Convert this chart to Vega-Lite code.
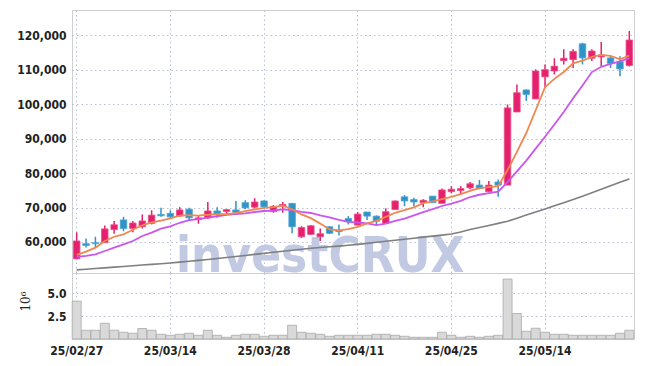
{
  "$schema": "https://vega.github.io/schema/vega-lite/v6.json",
  "padding": {"left": 0, "top": 9, "right": 12, "bottom": 5},
  "background": "white",
  "spacing": 0,
  "bounds": "flush",
  "config": {
    "concat": {"spacing": 0},
    "view": {"stroke": "#cfcfcf"},
    "axis": {
      "labelFont": "DejaVu Sans Condensed, Liberation Sans Narrow, DejaVu Sans, sans-serif",
      "labelFontWeight": "bold",
      "labelFontSize": 12,
      "labelColor": "#222222",
      "gridColor": "#b9bed6",
      "gridDash": [1.5, 3],
      "gridWidth": 1,
      "domain": false,
      "ticks": false,
      "labelOverlap": false
    }
  },
  "datasets": {
    "d": [
      {"date": "25/02/27", "open": 55100, "high": 62800, "low": 55000, "close": 60300, "volume_m": 4.16, "ma5": 56230, "ma10": 55650, "ma60": 51900},
      {"date": "25/02/28", "open": 59500, "high": 61000, "low": 58400, "close": 59000, "volume_m": 0.96, "ma5": 57190, "ma10": 55940, "ma60": 52100},
      {"date": "25/03/04", "open": 59800, "high": 61500, "low": 58400, "close": 59500, "volume_m": 0.96, "ma5": 58350, "ma10": 56430, "ma60": 52300},
      {"date": "25/03/05", "open": 59800, "high": 64800, "low": 59800, "close": 63800, "volume_m": 1.73, "ma5": 60290, "ma10": 57390, "ma60": 52500},
      {"date": "25/03/06", "open": 63600, "high": 66100, "low": 62400, "close": 65000, "volume_m": 0.96, "ma5": 61520, "ma10": 58350, "ma60": 52700},
      {"date": "25/03/07", "open": 66400, "high": 67300, "low": 63100, "close": 63900, "volume_m": 0.74, "ma5": 62230, "ma10": 59330, "ma60": 52900},
      {"date": "25/03/10", "open": 63900, "high": 66100, "low": 62800, "close": 65500, "volume_m": 0.63, "ma5": 63530, "ma10": 60290, "ma60": 53100},
      {"date": "25/03/11", "open": 64400, "high": 68000, "low": 63900, "close": 66100, "volume_m": 1.15, "ma5": 64840, "ma10": 61740, "ma60": 53300},
      {"date": "25/03/12", "open": 65400, "high": 69200, "low": 65100, "close": 67800, "volume_m": 0.96, "ma5": 65660, "ma10": 62700, "ma60": 53500},
      {"date": "25/03/13", "open": 68000, "high": 69900, "low": 67300, "close": 67600, "volume_m": 0.52, "ma5": 66180, "ma10": 63850, "ma60": 53700},
      {"date": "25/03/14", "open": 68300, "high": 69200, "low": 66700, "close": 67300, "volume_m": 0.41, "ma5": 66860, "ma10": 64550, "ma60": 53900},
      {"date": "25/03/17", "open": 67600, "high": 70100, "low": 67300, "close": 69300, "volume_m": 0.52, "ma5": 67610, "ma10": 65570, "ma60": 54150},
      {"date": "25/03/18", "open": 69500, "high": 69900, "low": 66300, "close": 67000, "volume_m": 0.63, "ma5": 67800, "ma10": 66320, "ma60": 54400},
      {"date": "25/03/19", "open": 66500, "high": 67700, "low": 65300, "close": 67000, "volume_m": 0.41, "ma5": 67630, "ma10": 66640, "ma60": 54650},
      {"date": "25/03/20", "open": 67000, "high": 71600, "low": 66700, "close": 69000, "volume_m": 0.96, "ma5": 67900, "ma10": 67040, "ma60": 54900},
      {"date": "25/03/21", "open": 69000, "high": 70100, "low": 67000, "close": 68000, "volume_m": 0.41, "ma5": 68060, "ma10": 67460, "ma60": 55200},
      {"date": "25/03/24", "open": 68800, "high": 69500, "low": 67900, "close": 69400, "volume_m": 0.19, "ma5": 68080, "ma10": 67850, "ma60": 55500},
      {"date": "25/03/25", "open": 69300, "high": 71900, "low": 68000, "close": 68600, "volume_m": 0.41, "ma5": 68390, "ma10": 68100, "ma60": 55800},
      {"date": "25/03/26", "open": 71400, "high": 72100, "low": 69500, "close": 69900, "volume_m": 0.52, "ma5": 68970, "ma10": 68300, "ma60": 56100},
      {"date": "25/03/27", "open": 70100, "high": 72700, "low": 69700, "close": 71600, "volume_m": 0.52, "ma5": 69490, "ma10": 68700, "ma60": 56400},
      {"date": "25/03/28", "open": 71900, "high": 72100, "low": 69900, "close": 70200, "volume_m": 0.30, "ma5": 69910, "ma10": 68990, "ma60": 56700},
      {"date": "25/03/31", "open": 68800, "high": 70700, "low": 68500, "close": 70300, "volume_m": 0.41, "ma5": 70100, "ma10": 69090, "ma60": 57000},
      {"date": "25/04/01", "open": 70400, "high": 71600, "low": 68500, "close": 70900, "volume_m": 0.41, "ma5": 70560, "ma10": 69480, "ma60": 57300},
      {"date": "25/04/02", "open": 71200, "high": 71300, "low": 62500, "close": 64400, "volume_m": 1.51, "ma5": 69480, "ma10": 69230, "ma60": 57600},
      {"date": "25/04/03", "open": 61500, "high": 64600, "low": 61200, "close": 64200, "volume_m": 0.74, "ma5": 67990, "ma10": 68740, "ma60": 57900},
      {"date": "25/04/04", "open": 62200, "high": 64900, "low": 62000, "close": 64700, "volume_m": 0.63, "ma5": 66910, "ma10": 68410, "ma60": 58200},
      {"date": "25/04/07", "open": 61500, "high": 63900, "low": 60300, "close": 62400, "volume_m": 0.52, "ma5": 65330, "ma10": 67720, "ma60": 58400},
      {"date": "25/04/08", "open": 64400, "high": 64600, "low": 62300, "close": 62500, "volume_m": 0.30, "ma5": 63650, "ma10": 67110, "ma60": 58600},
      {"date": "25/04/09", "open": 63400, "high": 65100, "low": 61900, "close": 63000, "volume_m": 0.41, "ma5": 63360, "ma10": 66420, "ma60": 58800},
      {"date": "25/04/10", "open": 66800, "high": 67500, "low": 65100, "close": 65900, "volume_m": 0.41, "ma5": 63710, "ma10": 65850, "ma60": 59050},
      {"date": "25/04/11", "open": 64900, "high": 68700, "low": 64900, "close": 68100, "volume_m": 0.41, "ma5": 64380, "ma10": 65650, "ma60": 59300},
      {"date": "25/04/14", "open": 68700, "high": 68700, "low": 66400, "close": 67500, "volume_m": 0.41, "ma5": 65410, "ma10": 65370, "ma60": 59600},
      {"date": "25/04/15", "open": 67500, "high": 67700, "low": 64800, "close": 66000, "volume_m": 0.52, "ma5": 66110, "ma10": 64880, "ma60": 59900},
      {"date": "25/04/16", "open": 65400, "high": 69800, "low": 65400, "close": 68800, "volume_m": 0.52, "ma5": 67260, "ma10": 65310, "ma60": 60200},
      {"date": "25/04/17", "open": 69400, "high": 72000, "low": 69300, "close": 71900, "volume_m": 0.41, "ma5": 68470, "ma10": 66090, "ma60": 60500},
      {"date": "25/04/18", "open": 73100, "high": 73600, "low": 70400, "close": 71900, "volume_m": 0.30, "ma5": 69220, "ma10": 66800, "ma60": 60800},
      {"date": "25/04/21", "open": 72300, "high": 72800, "low": 70400, "close": 71600, "volume_m": 0.19, "ma5": 70030, "ma10": 67720, "ma60": 61100},
      {"date": "25/04/22", "open": 71400, "high": 72400, "low": 70100, "close": 72100, "volume_m": 0.19, "ma5": 71250, "ma10": 68680, "ma60": 61400},
      {"date": "25/04/23", "open": 73300, "high": 73300, "low": 71300, "close": 71400, "volume_m": 0.19, "ma5": 71770, "ma10": 69520, "ma60": 61700},
      {"date": "25/04/24", "open": 71200, "high": 75500, "low": 71200, "close": 75100, "volume_m": 0.74, "ma5": 72410, "ma10": 70440, "ma60": 62000},
      {"date": "25/04/25", "open": 74600, "high": 76200, "low": 74100, "close": 75300, "volume_m": 0.41, "ma5": 73090, "ma10": 71150, "ma60": 62300},
      {"date": "25/04/28", "open": 74900, "high": 76200, "low": 73800, "close": 75500, "volume_m": 0.19, "ma5": 73860, "ma10": 71950, "ma60": 62900},
      {"date": "25/04/29", "open": 75700, "high": 77400, "low": 75300, "close": 76900, "volume_m": 0.30, "ma5": 74820, "ma10": 73040, "ma60": 63600},
      {"date": "25/04/30", "open": 76500, "high": 78000, "low": 75300, "close": 75500, "volume_m": 0.19, "ma5": 75630, "ma10": 73700, "ma60": 64200},
      {"date": "25/05/02", "open": 74600, "high": 77700, "low": 74600, "close": 76500, "volume_m": 0.30, "ma5": 75920, "ma10": 74170, "ma60": 64800},
      {"date": "25/05/07", "open": 77400, "high": 78100, "low": 73100, "close": 76500, "volume_m": 0.41, "ma5": 76170, "ma10": 74630, "ma60": 65400},
      {"date": "25/05/08", "open": 76500, "high": 99900, "low": 76500, "close": 98900, "volume_m": 6.58, "ma5": 80860, "ma10": 77360, "ma60": 66000},
      {"date": "25/05/09", "open": 97700, "high": 105700, "low": 97700, "close": 103300, "volume_m": 2.80, "ma5": 86140, "ma10": 80480, "ma60": 66900},
      {"date": "25/05/12", "open": 104100, "high": 104300, "low": 100900, "close": 102800, "volume_m": 0.85, "ma5": 91610, "ma10": 83620, "ma60": 67800},
      {"date": "25/05/13", "open": 101500, "high": 110100, "low": 101500, "close": 109600, "volume_m": 1.18, "ma5": 98220, "ma10": 87070, "ma60": 68700},
      {"date": "25/05/14", "open": 107900, "high": 111500, "low": 104700, "close": 110000, "volume_m": 0.74, "ma5": 104910, "ma10": 90540, "ma60": 69600},
      {"date": "25/05/15", "open": 109600, "high": 113300, "low": 108600, "close": 111000, "volume_m": 0.52, "ma5": 107330, "ma10": 94100, "ma60": 70500},
      {"date": "25/05/16", "open": 112600, "high": 115900, "low": 111500, "close": 113300, "volume_m": 0.52, "ma5": 109320, "ma10": 97730, "ma60": 71400},
      {"date": "25/05/19", "open": 112900, "high": 115900, "low": 110500, "close": 115300, "volume_m": 0.41, "ma5": 111810, "ma10": 101710, "ma60": 72300},
      {"date": "25/05/20", "open": 117500, "high": 117800, "low": 111500, "close": 113400, "volume_m": 0.41, "ma5": 112580, "ma10": 105400, "ma60": 73300},
      {"date": "25/05/21", "open": 113300, "high": 115900, "low": 112500, "close": 115400, "volume_m": 0.41, "ma5": 113670, "ma10": 109290, "ma60": 74300},
      {"date": "25/05/22", "open": 113700, "high": 118000, "low": 111000, "close": 114200, "volume_m": 0.41, "ma5": 114300, "ma10": 110820, "ma60": 75300},
      {"date": "25/05/23", "open": 113400, "high": 113900, "low": 110500, "close": 111800, "volume_m": 0.41, "ma5": 114020, "ma10": 111670, "ma60": 76300},
      {"date": "25/05/26", "open": 112300, "high": 113900, "low": 108100, "close": 110200, "volume_m": 0.63, "ma5": 113010, "ma10": 112410, "ma60": 77300},
      {"date": "25/05/27", "open": 111200, "high": 121200, "low": 110900, "close": 118600, "volume_m": 0.96, "ma5": 114040, "ma10": 113310, "ma60": 78300}
    ]
  },
  "vconcat": [
    {
      "width": 562,
      "height": 263,
      "encoding": {
        "x": {
          "field": "date", "type": "ordinal",
          "scale": {"paddingInner": 0.3, "paddingOuter": 0.15},
          "axis": {"values": ["25/02/27", "25/03/14", "25/03/28", "25/04/11", "25/04/25", "25/05/14"], "labels": false, "grid": true, "bandPosition": 0.5, "title": null, "labelPadding": 0, "minExtent": 0, "maxExtent": 0}
        }
      },
      "layer": [
        {
          "data": {"values": [{}]},
          "mark": {"type": "text", "text": "investCRUX", "font": "DejaVu Sans Condensed, Liberation Sans Narrow, DejaVu Sans, sans-serif", "fontWeight": "bold", "fontSize": 49, "color": "#c2c9e2", "align": "center", "baseline": "alphabetic"},
          "encoding": {
            "x": {"datum": "25/04/07", "type": "ordinal"},
            "y": {"datum": 51300, "type": "quantitative"}
          }
        },
        {
          "data": {"name": "d"},
          "mark": {"type": "rule", "strokeWidth": 1.5},
          "encoding": {
            "y": {"field": "low", "type": "quantitative", "scale": {"domain": [51000, 127300], "zero": false, "nice": false},
              "axis": {"values": [60000, 70000, 80000, 90000, 100000, 110000, 120000], "format": ",d", "grid": true, "title": null, "labelPadding": 6, "minExtent": 71, "maxExtent": 71}},
            "y2": {"field": "high"},
            "color": {"condition": {"test": "datum.close >= datum.open", "value": "#e5206c"}, "value": "#2f93c7"}
          }
        },
        {
          "data": {"name": "d"},
          "mark": {"type": "bar", "size": 6.5, "strokeWidth": 0.8},
          "encoding": {
            "y": {"field": "open", "type": "quantitative"},
            "y2": {"field": "close"},
            "color": {"condition": {"test": "datum.close >= datum.open", "value": "#e5206c"}, "value": "#2f93c7"},
            "stroke": {"condition": {"test": "datum.close >= datum.open", "value": "#ec4f8a"}, "value": "#4aa5d3"}
          }
        },
        {
          "data": {"name": "d"},
          "mark": {"type": "line", "color": "#7f7f7f", "strokeWidth": 1.6},
          "encoding": {"y": {"field": "ma60", "type": "quantitative"}}
        },
        {
          "data": {"name": "d"},
          "mark": {"type": "line", "color": "#cc55ee", "strokeWidth": 1.8},
          "encoding": {"y": {"field": "ma10", "type": "quantitative"}}
        },
        {
          "data": {"name": "d"},
          "mark": {"type": "line", "color": "#f0874f", "strokeWidth": 1.8},
          "encoding": {"y": {"field": "ma5", "type": "quantitative"}}
        }
      ]
    },
    {
      "width": 562,
      "height": 66,
      "data": {"name": "d"},
      "mark": {"type": "bar", "size": 9, "fill": "#d9d9d9", "stroke": "#a9a9a9", "strokeWidth": 0.8},
      "encoding": {
        "x": {
          "field": "date", "type": "ordinal",
          "scale": {"paddingInner": 0.3, "paddingOuter": 0.15},
          "axis": {"values": ["25/02/27", "25/03/14", "25/03/28", "25/04/11", "25/04/25", "25/05/14"], "labelAngle": 0, "labelPadding": 6, "grid": true, "bandPosition": 0.5, "title": null}
        },
        "y": {
          "field": "volume_m", "type": "quantitative",
          "scale": {"domain": [0, 7.25], "nice": false},
          "axis": {"values": [2.5, 5], "format": ".1f", "grid": true, "labelPadding": 6, "minExtent": 71, "maxExtent": 71,
            "title": "10⁶", "titleFont": "DejaVu Serif", "titleFontWeight": "normal", "titleFontSize": 12, "titleColor": "#222222", "titleX": -40, "titleY": 28, "titleAngle": -90}
        }
      }
    }
  ]
}
